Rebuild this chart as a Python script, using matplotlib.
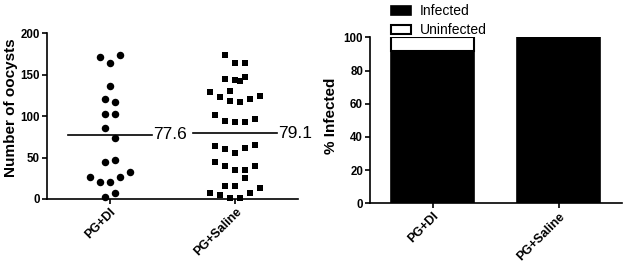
"""Oocyst counts (mean line) and % infected for PG+DI vs PG+Saline."""
import matplotlib
import numpy as np

matplotlib.use("Agg")
import matplotlib.pyplot as plt

GROUPS = ["PG+DI", "PG+Saline"]

# oocysts per midgut; *_slot = swarm column (in marker widths) as drawn
di_oocysts = [171, 174, 164, 136, 120, 117, 103, 103, 85, 74, 45, 47, 26, 21, 20, 26, 32, 2, 7]
di_slot = [-1, 1, 0, 0, -0.5, 0.5, -0.5, 0.5, -0.5, 0.5, -0.5, 0.5, -2, -1, 0, 1, 2, -0.5, 0.5]
saline_oocysts = [174, 164, 164, 145, 143, 142, 147, 129, 123, 130, 118, 117, 121, 124,
                  101, 94, 93, 93, 97, 64, 60, 56, 61, 65, 45, 40, 35, 35, 40, 25, 16, 16,
                  7, 5, 1, 1, 7, 13]
saline_slot = [-1, 0, 1, -1, 0, 0.5, 1, -2.5, -1.5, -0.5, -0.5, 0.5, 1.5, 2.5,
               -2, -1, 0, 1, 2, -2, -1, 0, 1, 2, -2, -1, 0, 1, 2, 1, -1, 0,
               -2.5, -1.5, -0.5, 0.5, 1.5, 2.5]
MEANS = [77.6, 79.1]

infected = [92, 100]
uninfected = [8, 0]

FONT = "Liberation Sans"
STEP = 0.079          # one marker width in x data units


def style(ax):
    for s in ("top", "right"):
        ax.spines[s].set_visible(False)
    for s in ("left", "bottom"):
        ax.spines[s].set_linewidth(1.2)
    ax.tick_params(width=1.2, length=3.5, labelsize=8.3, pad=1.5)
    for lab in ax.get_yticklabels():
        lab.set_fontweight("bold"); lab.set_family(FONT)
    ax.set_xlim(0.5, 2.5)
    ax.set_xticks([1, 2])
    ax.set_xticklabels(GROUPS, rotation=45, ha="right", rotation_mode="anchor",
                       fontsize=9, fontweight="bold", family=FONT)


def main():
    plt.rcParams["font.family"] = [FONT, "DejaVu Sans"]
    fig = plt.figure(figsize=(6.26, 2.68), dpi=100)

    # left: scatter of oocyst counts
    ax = fig.add_axes([0.0751, 0.2575, 0.401, 0.619])
    for i, (vals, slot, mk, ms) in enumerate([(di_oocysts, di_slot, "o", 5.4),
                                               (saline_oocysts, saline_slot, "s", 5.0)]):
        x = i + 1 + np.array(slot) * STEP
        ax.plot(x, vals, mk, color="black", ms=ms, mew=0, ls="none", clip_on=False)
        ax.plot([i + 1 - 0.333, i + 1 + 0.333], [MEANS[i], MEANS[i]], color="black", lw=1.2)
        ax.text(i + 1 + 0.345, MEANS[i], f"{MEANS[i]:.1f}", fontsize=12.5, va="center", ha="left")
    ax.set_ylim(0, 200)
    ax.set_yticks([0, 50, 100, 150, 200])
    ax.set_ylabel("Number of oocysts", fontsize=11, fontweight="bold", labelpad=2)
    ax.yaxis.label.set_y(0.55)
    style(ax)

    # right: stacked % infected
    ax2 = fig.add_axes([0.591, 0.2414, 0.402, 0.619])
    xs = [1, 2]
    ax2.bar(xs, infected, width=0.66, color="black", edgecolor="black", lw=1.2, label="Infected")
    ax2.bar(xs, uninfected, width=0.66, bottom=infected, color="white", edgecolor="black",
            lw=1.5, label="Uninfected")
    ax2.set_ylim(0, 100)
    ax2.set_yticks([0, 20, 40, 60, 80, 100])
    ax2.set_ylabel("% Infected", fontsize=11, fontweight="bold", labelpad=4)
    ax2.yaxis.label.set_y(0.53)
    style(ax2)
    fig.legend(loc="upper left", bbox_to_anchor=(391 / 626, 1 - 4 / 268), frameon=False,
               fontsize=10, handlelength=1.45, handleheight=0.6, handletextpad=0.6,
               labelspacing=0.38, borderpad=0, borderaxespad=0)

    fig.savefig("out.png", dpi=100)


if __name__ == "__main__":
    main()
